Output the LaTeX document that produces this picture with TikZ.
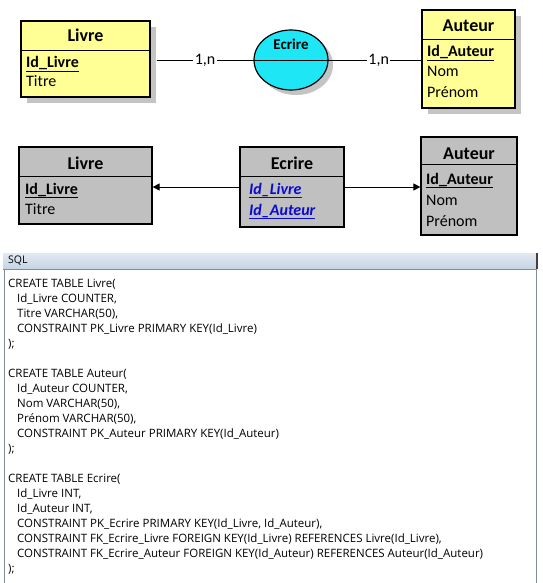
\documentclass[tikz,border=0pt]{standalone}
\usepackage{fontspec}
\setmainfont{Carlito}
\newfontfamily\sqlfont{Open Sans}
\usetikzlibrary{shapes.geometric,shadows,arrows.meta}

\definecolor{jaune}{RGB}{255,255,150}
\definecolor{cyanasso}{RGB}{30,230,245}
\definecolor{gristable}{RGB}{192,192,192}
\definecolor{ombre}{RGB}{196,196,196}
\definecolor{bleucle}{RGB}{10,10,210}
\definecolor{barrehaut}{RGB}{226,233,242}
\definecolor{barrebas}{RGB}{198,212,228}
\definecolor{bordsql}{RGB}{130,140,150}
\newcommand{\retrait}{\hspace*{9pt}}

\begin{document}
\begin{tikzpicture}[x=1pt,y=-1pt]
  \tikzstyle{entite} = [draw, line width=1.2pt, fill=jaune, drop shadow={shadow xshift=6pt, shadow yshift=-6pt, fill=ombre, opacity=1}];
  \tikzstyle{asso} = [ellipse, draw, line width=1.2pt, fill=cyanasso, drop shadow={shadow xshift=5pt, shadow yshift=-5pt, fill=ombre, opacity=1}];
  \tikzstyle{relation} = [draw, line width=1.2pt, fill=gristable];
  \tikzstyle{titre} = [anchor=base, inner sep=0pt, font=\bfseries\fontsize{18}{18}\selectfont];
  \tikzstyle{champ} = [anchor=base west, inner sep=0pt, font=\fontsize{16}{16}\selectfont];
  \tikzstyle{cle} = [champ, font=\bfseries\fontsize{16}{16}\selectfont];
  \tikzstyle{etrangere} = [champ, text=bleucle, font=\bfseries\itshape\fontsize{16}{16}\selectfont];
  \tikzstyle{card} = [fill=white, inner sep=1.5pt, font=\fontsize{16}{16}\selectfont];
  \tikzstyle{fleche} = [line width=0.9pt, -{Triangle[length=7pt,width=7pt]}];

  \useasboundingbox (0,0) rectangle (542,583);

  % MCD
  \node[entite, minimum width=129pt, minimum height=76pt] (livreA) at (85.5,59) {};
  \node[asso, minimum width=74pt, minimum height=60pt] (ecrireA) at (291,60) {};
  \node[entite, minimum width=93pt, minimum height=98pt] (auteurA) at (468.5,59) {};

  \draw[line width=0.9pt] ([yshift=-30pt]livreA.north west) -- ([yshift=-30pt]livreA.north east);
  \draw[line width=0.9pt] (ecrireA.west) -- (ecrireA.east);
  \draw[line width=0.9pt] ([yshift=-30pt]auteurA.north west) -- ([yshift=-30pt]auteurA.north east);

  \node[titre] (tLivreA) at (85.5,42) {Livre};
  \node[cle] (idLivreA) at (26,68) {\underline{Id\_Livre}};
  \node[champ] (titreA) at (26,87) {Titre};

  \node[titre, font=\bfseries\fontsize{15}{15}\selectfont] (tEcrireA) at (291,50) {Ecrire};

  \node[titre] (tAuteurA) at (468.5,32) {Auteur};
  \node[cle] (idAuteurA) at (427,57) {\underline{Id\_Auteur}};
  \node[champ] (nomA) at (427,77) {Nom};
  \node[champ] (prenomA) at (427,98) {Prénom};

  \draw[line width=0.8pt, shorten <=6pt] (livreA.east |- ecrireA.west) -- node[card, pos=0.53] (cardLivre) {1,n} (ecrireA.west);
  \draw[line width=0.8pt] (ecrireA.east) -- node[card, pos=0.54] (cardAuteur) {1,n} (auteurA.west |- ecrireA.east);

  % MLD
  \node[relation, minimum width=133pt, minimum height=77pt] (livreB) at (85.5,185.5) {};
  \node[relation, minimum width=104pt, minimum height=80pt] (ecrireB) at (292,187) {};
  \node[relation, minimum width=96pt, minimum height=98pt] (auteurB) at (469,186) {};

  \draw[line width=0.9pt] ([yshift=-30pt]livreB.north west) -- ([yshift=-30pt]livreB.north east);
  \draw[line width=0.9pt] ([yshift=-30pt]ecrireB.north west) -- ([yshift=-30pt]ecrireB.north east);
  \draw[line width=0.9pt] ([yshift=-28pt]auteurB.north west) -- ([yshift=-28pt]auteurB.north east);

  \node[titre] (tLivreB) at (85.5,169) {Livre};
  \node[cle] (idLivreB) at (25,194) {\underline{Id\_Livre}};
  \node[champ] (titreB) at (25,214) {Titre};

  \node[titre] (tEcrireB) at (292,169) {Ecrire};
  \node[etrangere] (fkLivre) at (249,194) {\underline{Id\_Livre}};
  \node[etrangere] (fkAuteur) at (249,215) {\underline{Id\_Auteur}};

  \node[titre] (tAuteurB) at (469,159) {Auteur};
  \node[cle] (idAuteurB) at (426,184) {\underline{Id\_Auteur}};
  \node[champ] (nomB) at (426,205) {Nom};
  \node[champ] (prenomB) at (426,226) {Prénom};

  \draw[fleche] (ecrireB.west) -- (livreB.east |- ecrireB.west);
  \draw[fleche] (ecrireB.east) -- (auteurB.west |- ecrireB.east);

  % SQL
  \shade[top color=barrehaut, bottom color=barrebas] (3,253) rectangle (537,269);
  \draw[bordsql, line width=1pt] (3,269) -- (537,269);
  \draw[black!75, line width=1.2pt] (537,253) -- (537,269);
  \draw[bordsql, line width=1pt] (4,583) -- (4,269) (536,269) -- (536,583);
  \node[anchor=west, inner sep=0pt, font=\sqlfont\fontsize{10.5}{10.5}\selectfont] (sqlTitre) at (8,261) {SQL};

  \node[anchor=north west, inner sep=0pt, align=left, font=\sqlfont\fontsize{11.5}{15}\selectfont] (sqlCode) at (8,278.5) {%
    CREATE TABLE Livre(\\
    \retrait Id\_Livre COUNTER,\\
    \retrait Titre VARCHAR(50),\\
    \retrait CONSTRAINT PK\_Livre PRIMARY KEY(Id\_Livre)\\
    );\\[15pt]
    CREATE TABLE Auteur(\\
    \retrait Id\_Auteur COUNTER,\\
    \retrait Nom VARCHAR(50),\\
    \retrait Prénom VARCHAR(50),\\
    \retrait CONSTRAINT PK\_Auteur PRIMARY KEY(Id\_Auteur)\\
    );\\[15pt]
    CREATE TABLE Ecrire(\\
    \retrait Id\_Livre INT,\\
    \retrait Id\_Auteur INT,\\
    \retrait CONSTRAINT PK\_Ecrire PRIMARY KEY(Id\_Livre, Id\_Auteur),\\
    \retrait CONSTRAINT FK\_Ecrire\_Livre FOREIGN KEY(Id\_Livre) REFERENCES Livre(Id\_Livre),\\
    \retrait CONSTRAINT FK\_Ecrire\_Auteur FOREIGN KEY(Id\_Auteur) REFERENCES Auteur(Id\_Auteur)\\
    );};
\end{tikzpicture}
\end{document}
